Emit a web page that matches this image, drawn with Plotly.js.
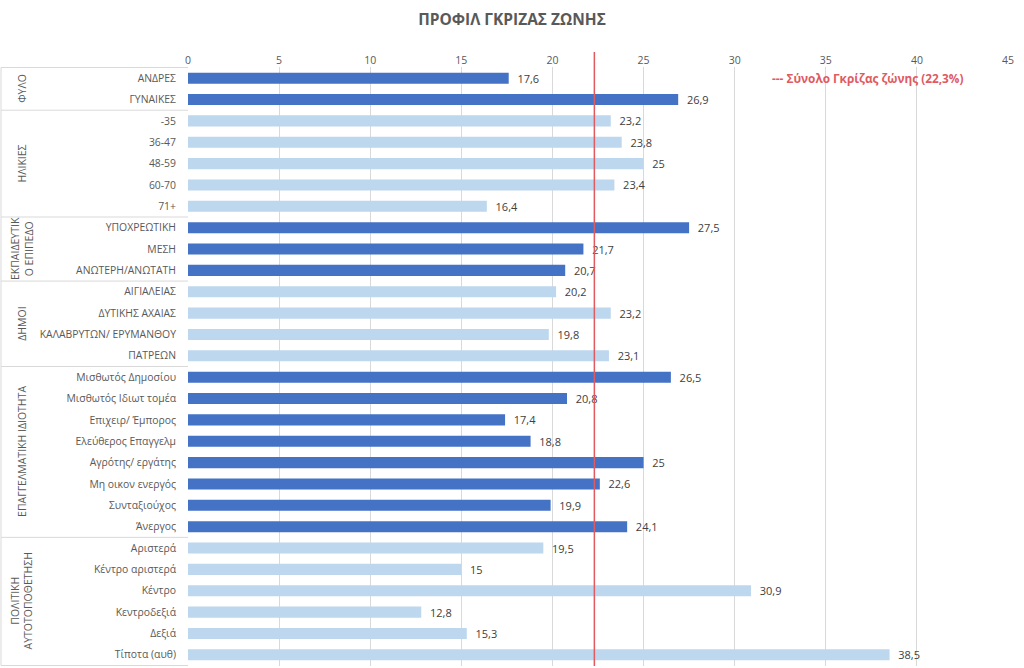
<!DOCTYPE html>
<html>
<head>
<meta charset="utf-8">
<script src="https://cdn.plot.ly/plotly-3.0.1.min.js"></script>
<style>
  html, body { margin: 0; padding: 0; background: #ffffff; }
  #chart { width: 1024px; height: 668px; }
</style>
</head>
<body>
<div id="chart"></div>
<script>
// Grey-zone profile: share of undecided respondents per demographic group
const categories = [
  'ΑΝΔΡΕΣ', 'ΓΥΝΑΙΚΕΣ',
  '-35', '36-47', '48-59', '60-70', '71+',
  'ΥΠΟΧΡΕΩΤΙΚΗ', 'ΜΕΣΗ', 'ΑΝΩΤΕΡΗ/ΑΝΩΤΑΤΗ',
  'ΑΙΓΙΑΛΕΙΑΣ', 'ΔΥΤΙΚΗΣ ΑΧΑΙΑΣ', 'ΚΑΛΑΒΡΥΤΩΝ/ ΕΡΥΜΑΝΘΟΥ', 'ΠΑΤΡΕΩΝ',
  'Μισθωτός Δημοσίου', 'Μισθωτός Ιδιωτ τομέα', 'Επιχειρ/ Έμπορος', 'Ελεύθερος Επαγγελμ',
  'Αγρότης/ εργάτης', 'Μη οικον ενεργός', 'Συνταξιούχος', 'Άνεργος',
  'Αριστερά', 'Κέντρο αριστερά', 'Κέντρο', 'Κεντροδεξιά', 'Δεξιά', 'Τίποτα (αυθ)'
];
const values = [
  17.6, 26.9,
  23.2, 23.8, 25, 23.4, 16.4,
  27.5, 21.7, 20.7,
  20.2, 23.2, 19.8, 23.1,
  26.5, 20.8, 17.4, 18.8, 25, 22.6, 19.9, 24.1,
  19.5, 15, 30.9, 12.8, 15.3, 38.5
];
// Group titles (two-line ones use <br>) and how many categories each spans
const groupNames = [
  'ΦΥΛΟ', 'ΗΛΙΚΙΕΣ', 'ΕΚΠΑΙΔΕΥΤΙΚ<br>Ο ΕΠΙΠΕΔΟ', 'ΔΗΜΟΙ',
  'ΕΠΑΓΓΕΛΜΑΤΙΚΗ ΙΔΙΟΤΗΤΑ', 'ΠΟΛΙΤΙΚΗ<br>ΑΥΤΟΤΟΠΟΘΕΤΗΣΗ'
];
const groupSizes = [2, 5, 3, 4, 8, 6];
const totalGrey = 22.3;
const totalLabel = '--- Σύνολο Γκρίζας ζώνης (22,3%)';
const chartTitle = 'ΠΡΟΦΙΛ ΓΚΡΙΖΑΣ ΖΩΝΗΣ';

const darkBlue = '#4472C4';
const lightBlue = '#BDD7EE';
const lineColor = '#D9D9D9';
const fontFam = '"Open Sans", "Noto Sans", sans-serif';

// Alternate bar colour per group
const colors = [];
groupSizes.forEach((n, g) => {
  for (let i = 0; i < n; i++) colors.push(g % 2 === 0 ? darkBlue : lightBlue);
});

const fmt = v => '  ' + String(v).replace('.', ',');

const trace = {
  type: 'bar',
  orientation: 'h',
  x: values,
  y: categories,
  marker: { color: colors },
  text: values.map(fmt),
  textposition: 'outside',
  constraintext: 'none',
  textfont: { family: fontFam, size: 11, color: '#404040' },
  cliponaxis: false,
  hoverinfo: 'x+y'
};

// Geometry of the left-hand label box
const plotLeft = 188, plotWidth = 820;
const boxLeft = -(plotLeft - 1) / plotWidth;

const shapes = [];
const annotations = [];
let start = 0;
const bounds = [-0.5];
groupSizes.forEach((n, g) => {
  const end = start + n;
  bounds.push(end - 0.5);
  annotations.push({
    xref: 'paper', yref: 'y',
    x: -(plotLeft - 22) / plotWidth, y: (start + end - 1) / 2,
    text: groupNames[g], textangle: -90, showarrow: false,
    font: { family: fontFam, size: 10.5, color: '#595959' },
    xanchor: 'center', yanchor: 'middle', align: 'center'
  });
  start = end;
});
bounds.forEach(b => {
  shapes.push({
    type: 'line', xref: 'paper', yref: 'y',
    x0: boxLeft, x1: 0, y0: b, y1: b,
    line: { color: lineColor, width: 1 }
  });
});
shapes.push({
  type: 'line', xref: 'paper', yref: 'y',
  x0: boxLeft, x1: boxLeft, y0: -0.5, y1: categories.length - 0.5,
  line: { color: lineColor, width: 1 }
});
// Overall grey-zone reference line
shapes.push({
  type: 'line', xref: 'x', yref: 'paper',
  x0: totalGrey, x1: totalGrey, y0: 0, y1: 1.025,
  line: { color: '#E05A5F', width: 1.5 }
});

annotations.push({
  xref: 'x', yref: 'y', x: 37.3, y: 0,
  text: '<b>' + totalLabel + '</b>', showarrow: false,
  font: { family: fontFam, size: 11.8, color: '#E05A5F' },
  xanchor: 'center', yanchor: 'middle'
});

const layout = {
  width: 1024, height: 668,
  margin: { l: plotLeft, r: 1024 - plotLeft - plotWidth, t: 67, b: 2 },
  paper_bgcolor: '#ffffff', plot_bgcolor: '#ffffff',
  title: {
    text: '<b>' + chartTitle + '</b>',
    font: { family: fontFam, size: 15.5, color: '#595959' },
    x: 0.5, xref: 'container', y: 1 - 20 / 668, yref: 'container',
    xanchor: 'center', yanchor: 'middle'
  },
  xaxis: {
    side: 'top', range: [0, 45], dtick: 5, tick0: 0,
    showgrid: true, gridcolor: lineColor, gridwidth: 1,
    zeroline: false, showline: false, ticks: '',
    tickfont: { family: fontFam, size: 10.5, color: '#595959' },
    fixedrange: true
  },
  yaxis: {
    autorange: 'reversed', type: 'category',
    showgrid: false, zeroline: false, showline: false, ticks: '',
    ticklabelstandoff: 11,
    tickfont: { family: fontFam, size: 10.4, color: '#595959' },
    fixedrange: true
  },
  bargap: 0.48,
  showlegend: false,
  shapes: shapes,
  annotations: annotations
};

Plotly.newPlot('chart', [trace], layout, { displayModeBar: false, staticPlot: true });
</script>
</body>
</html>
